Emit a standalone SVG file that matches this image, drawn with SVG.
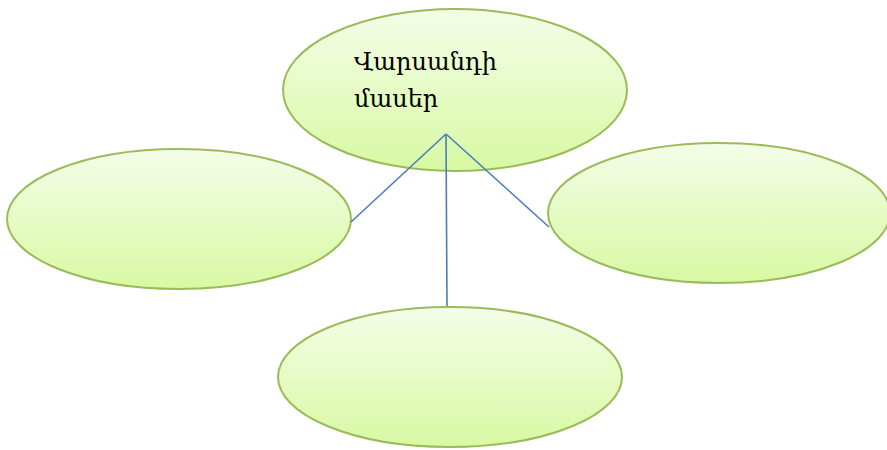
<svg xmlns="http://www.w3.org/2000/svg" width="887" height="450" viewBox="0 0 887 450">
  <defs>
    <linearGradient id="fillGreen" x1="0" y1="0" x2="0" y2="1">
      <stop offset="0" stop-color="#f4fde8"/>
      <stop offset="1" stop-color="#d8f9a3"/>
    </linearGradient>
  </defs>
  <style>
    .node ellipse { fill: url(#fillGreen); stroke: #9bbb59; stroke-width: 2; }
    .label { font-family: "DejaVu Serif", "Liberation Serif", serif; font-size: 24px; fill: #000; }
    .conn line { stroke: #4a7ebb; stroke-width: 1.6; }
  </style>
  <rect width="887" height="450" fill="#ffffff"/>
  <g id="node-top" class="node">
    <ellipse cx="455" cy="90" rx="172" ry="81"/>
    <text class="label" x="354" y="70">Վարսանդի</text>
    <text class="label" x="354" y="107">մասեր</text>
  </g>
  <g id="node-left" class="node">
    <ellipse cx="179" cy="219" rx="172" ry="70"/>
  </g>
  <g id="node-right" class="node">
    <ellipse cx="719" cy="213" rx="171" ry="70"/>
  </g>
  <g id="node-bottom" class="node">
    <ellipse cx="450" cy="377" rx="172" ry="70"/>
  </g>
  <g id="connectors" class="conn">
    <line x1="446" y1="134" x2="351" y2="222"/>
    <line x1="446" y1="134" x2="549" y2="227"/>
    <line x1="446" y1="134" x2="447" y2="306"/>
  </g>
</svg>
